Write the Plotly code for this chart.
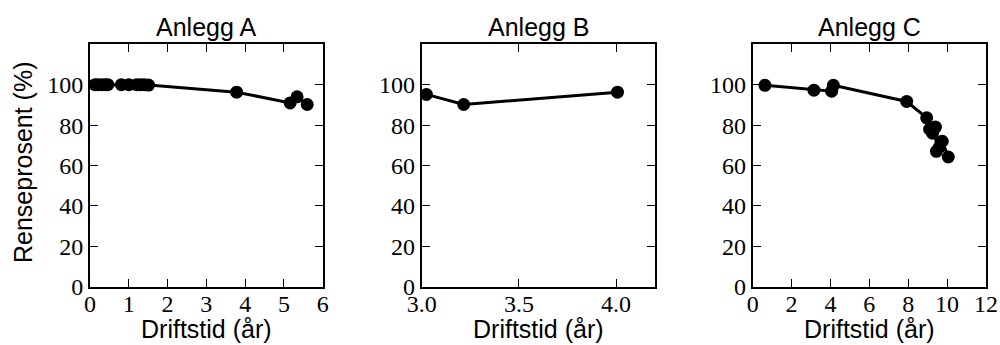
import plotly.graph_objects as go

# Data
a_x = [0.13, 0.2, 0.3, 0.4, 0.46, 0.81, 1.0, 1.2, 1.3, 1.4, 1.51, 3.78, 5.16, 5.34, 5.6]
a_y = [100, 100, 100, 100, 100, 100, 100, 100, 100, 100, 99.8, 96.3, 91.0, 94.0, 90.2]

b_x = [3.024, 3.216, 4.007]
b_y = [95.2, 90.2, 96.3]

c_x = [0.63, 3.15, 4.06, 4.15, 7.92, 8.95, 9.1, 9.25, 9.4, 9.45, 9.6, 9.75, 10.06]
c_y = [99.7, 97.3, 96.8, 99.7, 91.7, 83.6, 78.0, 76.0, 79.0, 67.0, 69.0, 72.0, 64.2]

titles = ["Anlegg A", "Anlegg B", "Anlegg C"]
x_ranges = [[0, 6], [3.0, 4.2], [0, 12]]
x_ticks = [[0, 1, 2, 3, 4, 5, 6], [3.0, 3.5, 4.0], [0, 2, 4, 6, 8, 10, 12]]
x_ticktext = [["0", "1", "2", "3", "4", "5", "6"], ["3.0", "3.5", "4.0"],
              ["0", "2", "4", "6", "8", "10", "12"]]
y_ticks = [0, 20, 40, 60, 80, 100]
y_range = [0, 120]
x_title = "Driftstid (år)"
y_title = "Renseprosent (%)"

W, H = 1000, 345
px_left = [90, 421.7, 752.7]
px_right = [322.7, 655, 986]
px_top, px_bottom = 44.3, 286.7

SANS = "Liberation Sans"
SERIF = "Liberation Serif, DejaVu Serif, serif"

fig = go.Figure()
series = [(a_x, a_y), (b_x, b_y), (c_x, c_y)]
layout = {}
annotations = []
for i, (xs, ys) in enumerate(series):
    n = "" if i == 0 else str(i + 1)
    fig.add_trace(go.Scatter(
        x=xs, y=ys, mode="lines+markers",
        xaxis="x" + n, yaxis="y" + n,
        line=dict(color="black", width=3),
        marker=dict(color="black", size=13, line=dict(width=0)),
        showlegend=False, cliponaxis=False,
    ))
    common = dict(showline=True, linewidth=2, linecolor="black", mirror="ticks",
                  ticks="inside", ticklen=8, tickwidth=1.3, tickcolor="black",
                  showgrid=False, zeroline=False, automargin=False,
                  tickfont=dict(family=SERIF, size=24, color="black"))
    layout["xaxis" + n] = dict(
        domain=[px_left[i] / W, px_right[i] / W], range=x_ranges[i],
        tickvals=x_ticks[i], ticktext=x_ticktext[i], anchor="y" + n,
        ticklabelstandoff=-6,
        **common)
    layout["yaxis" + n] = dict(
        domain=[1 - px_bottom / H, 1 - px_top / H], range=y_range,
        tickvals=y_ticks, anchor="x" + n,
        **common)
    cx = (px_left[i] + px_right[i]) / 2 / W
    annotations.append(dict(text=titles[i], x=cx, y=1 - 27 / H,
                            xref="paper", yref="paper", showarrow=False,
                            xanchor="center", yanchor="middle",
                            font=dict(family=SANS, size=25, color="black")))
    annotations.append(dict(text=x_title, x=cx, y=1 - 329 / H,
                            xref="paper", yref="paper", showarrow=False,
                            xanchor="center", yanchor="middle",
                            font=dict(family=SANS, size=25, color="black")))

annotations.append(dict(text=y_title, x=23 / W, y=1 - 163 / H, textangle=-90,
                        xref="paper", yref="paper", showarrow=False,
                        xanchor="center", yanchor="middle",
                        font=dict(family=SANS, size=25, color="black")))

fig.update_layout(**layout)
fig.update_layout(
    width=W, height=H, margin=dict(l=0, r=0, t=0, b=0),
    paper_bgcolor="white", plot_bgcolor="white",
    font=dict(family=SERIF, size=24, color="black"),
    annotations=annotations,
)
fig.write_html("out.html")
